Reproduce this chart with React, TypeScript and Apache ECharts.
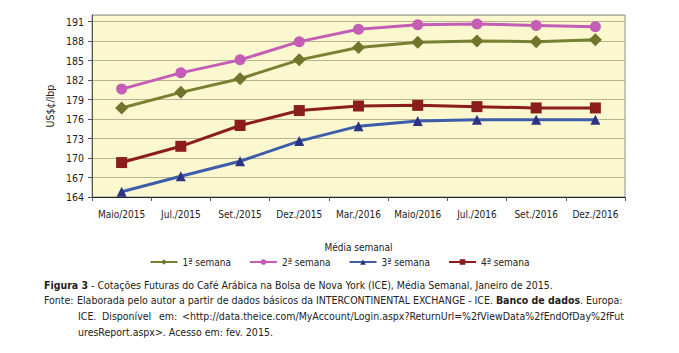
import React, { useEffect, useRef } from "react";
import * as echarts from "echarts";

const categories = ["Maio/2015", "Jul./2015", "Set./2015", "Dez./2015", "Mar./2016", "Maio/2016", "Jul./2016", "Set./2016", "Dez./2016"];
const semana1 = [177.7, 180.1, 182.2, 185.1, 187.0, 187.8, 188.0, 187.9, 188.2];
const semana2 = [180.6, 183.1, 185.1, 187.9, 189.8, 190.5, 190.6, 190.4, 190.2];
const semana3 = [164.8, 167.2, 169.5, 172.6, 174.9, 175.7, 175.9, 175.9, 175.9];
const semana4 = [169.3, 171.8, 175.0, 177.3, 178.0, 178.1, 177.9, 177.7, 177.7];
const seriesNames = ["1ª semana", "2ª semana", "3ª semana", "4ª semana"];

const FONT = '"DejaVu Sans Condensed", "DejaVu Sans", sans-serif';

export default function App() {
  const ref = useRef<HTMLDivElement>(null);
  useEffect(() => {
    if (!ref.current) return;
    const chart = echarts.init(ref.current, undefined, { renderer: "svg" });
    const mk = (name: string, data: number[], lineColor: string, markColor: string, symbol: string, size: number) => ({
      name,
      type: "line",
      data,
      symbol,
      symbolSize: size,
      lineStyle: { color: lineColor, width: 3 },
      itemStyle: { color: markColor },
      color: lineColor,
      z: 3,
    });
    chart.setOption({
      animation: false,
      textStyle: { fontFamily: FONT },
      grid: {
        left: 92,
        right: 54,
        top: 15,
        bottom: 156,
        show: true,
        backgroundColor: "#FBF8D0",
        borderColor: "#8F8F8F",
        borderWidth: 1,
        containLabel: false,
      },
      xAxis: {
        type: "category",
        data: categories,
        boundaryGap: true,
        axisLine: { lineStyle: { color: "#222", width: 1 } },
        axisTick: { show: true, length: 4, lineStyle: { color: "#555" } },
        axisLabel: { color: "#222", fontSize: 10, margin: 12, fontFamily: FONT, interval: 0 },
        name: "Média semanal",
        nameLocation: "middle",
        nameGap: 45,
        nameTextStyle: { color: "#222", fontSize: 10, fontFamily: FONT },
      },
      yAxis: {
        type: "value",
        min: 164,
        max: 192,
        interval: 3,
        axisLine: { show: true, lineStyle: { color: "#555" } },
        axisTick: { show: true, length: 4, lineStyle: { color: "#555" } },
        axisLabel: { color: "#222", fontSize: 10.5, margin: 8, showMaxLabel: false, fontFamily: FONT },
        splitLine: { show: true, lineStyle: { color: "#B7B493", width: 1 } },
        name: "US$¢/lbp",
        nameLocation: "middle",
        nameGap: 36,
        nameRotate: 90,
        nameTextStyle: { color: "#222", fontSize: 10.5, fontFamily: FONT },
      },
      legend: {
        top: 252,
        left: "center",
        itemWidth: 27,
        itemHeight: 7,
        itemGap: 18,
        textStyle: { color: "#222", fontSize: 10, fontFamily: FONT },
        data: seriesNames,
      },
      series: [
        mk(seriesNames[0], semana1, "#7A8032", "#6F752B", "diamond", 13),
        mk(seriesNames[1], semana2, "#C45DB5", "#C45DB5", "circle", 11),
        mk(seriesNames[2], semana3, "#3D5DAA", "#2C3383", "triangle", 10),
        mk(seriesNames[3], semana4, "#8B1D1D", "#8B1D1D", "rect", 11),
      ],
      graphic: [
        {
          type: "text",
          left: 44,
          top: 279,
          style: {
            text: "{b|Figura 3} - Cotações Futuras do Café Arábica na Bolsa de Nova York (ICE), Média Semanal, Janeiro de 2015.",
            fill: "#222",
            font: `10.5px ${FONT}`,
            rich: { b: { fontWeight: "bold", fontSize: 10.5, fontFamily: FONT, fill: "#222" } },
          },
        },
        {
          type: "text",
          left: 44,
          top: 294,
          style: { text: "Fonte:", fill: "#222", font: `10.5px ${FONT}` },
        },
        {
          type: "text",
          left: 77,
          top: 294,
          style: {
            text: "Elaborada pelo autor a partir de dados básicos da INTERCONTINENTAL EXCHANGE - ICE. {b|Banco de dados}. Europa:",
            fill: "#222",
            font: `10.5px ${FONT}`,
            rich: { b: { fontWeight: "bold", fontSize: 10.5, fontFamily: FONT, fill: "#222" } },
          },
        },
        { type: "text", left: 78, top: 310, style: { text: "ICE.", fill: "#222", font: `10.5px ${FONT}` } },
        { type: "text", left: 102, top: 310, style: { text: "Disponível", fill: "#222", font: `10.5px ${FONT}` } },
        { type: "text", left: 159, top: 310, style: { text: "em:", fill: "#222", font: `10.5px ${FONT}` } },
        {
          type: "text",
          left: 182,
          top: 310,
          style: {
            text: "<http://data.theice.com/MyAccount/Login.aspx?ReturnUrl=%2fViewData%2fEndOfDay%2fFut",
            fill: "#222",
            font: `10.5px ${FONT}`,
          },
        },
        {
          type: "text",
          left: 78,
          top: 326,
          style: { text: "uresReport.aspx>. Acesso em: fev. 2015.", fill: "#222", font: `10.5px ${FONT}` },
        },
      ],
    });
    return () => chart.dispose();
  }, []);
  return <div ref={ref} style={{ position: "absolute", left: 0, top: 0, width: 679, height: 353 }} />;
}
